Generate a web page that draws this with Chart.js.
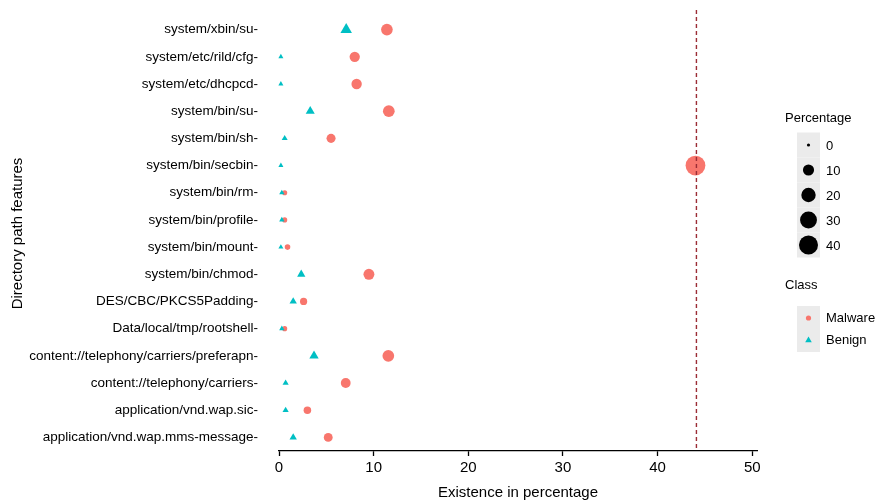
<!DOCTYPE html>
<html>
<head>
<meta charset="utf-8">
<script src="https://cdn.jsdelivr.net/npm/chart.js@4/dist/chart.umd.min.js"></script>
<style>
  html, body { margin: 0; padding: 0; background: #fff; }
  #wrap { width: 877px; height: 501px; position: relative; }
</style>
</head>
<body>
<div id="wrap"><canvas id="dir-chart"></canvas></div>
<script>
// ── Data ──────────────────────────────────────────────────────
const PATHS = [
    'system/xbin/su',
    'system/etc/rild/cfg',
    'system/etc/dhcpcd',
    'system/bin/su',
    'system/bin/sh',
    'system/bin/secbin',
    'system/bin/rm',
    'system/bin/profile',
    'system/bin/mount',
    'system/bin/chmod',
    'DES/CBC/PKCS5Padding',
    'Data/local/tmp/rootshell',
    'content://telephony/carriers/preferapn',
    'content://telephony/carriers',
    'application/vnd.wap.sic',
    'application/vnd.wap.mms-message',
];
const MALWARE_PCT = [11.4, 8.0, 8.2, 11.6, 5.5, 44.0, 0.6, 0.6, 0.9, 9.5, 2.6, 0.6, 11.55, 7.05, 3.0, 5.2];
const BENIGN_PCT  = [7.1, 0.2, 0.2, 3.3, 0.6, 0.2, 0.3, 0.3, 0.2, 2.35, 1.5, 0.3, 3.7, 0.7, 0.7, 1.5];
const X_TICKS     = [0, 10, 20, 30, 40, 50];
const SIZE_KEYS   = [0, 10, 20, 30, 40];
const THRESHOLD   = 44.1;

const FONT      = '"Liberation Sans", Arial, sans-serif';
const CLR_MAL   = '#F8766D';
const CLR_BEN   = '#00BFC4';
const KEY_BG    = '#ebebeb';

// area-ish size scale, like ggplot's scale_size
const sizeOf = v => 1.6 + 1.25 * Math.sqrt(Math.max(0, v));

const toPoints = vals => vals.map((v, i) => ({ x: v, y: PATHS[i] }));

// ── Plugins ───────────────────────────────────────────────────
const thresholdLine = {
    id: 'thresholdLine',
    afterDatasetsDraw(chart) {
        const { ctx, chartArea, scales } = chart;
        const x = scales.x.getPixelForValue(THRESHOLD);
        ctx.save();
        ctx.strokeStyle = '#9b2d35';
        ctx.lineWidth = 1.4;
        ctx.setLineDash([4, 3]);
        ctx.beginPath();
        ctx.moveTo(x, chartArea.top - 6);
        ctx.lineTo(x, chartArea.bottom);
        ctx.stroke();
        ctx.restore();
    },
};

const sideLegend = {
    id: 'sideLegend',
    afterDraw(chart) {
        const ctx = chart.ctx;
        const left = 797, keyW = 23;
        ctx.save();
        ctx.fillStyle = '#000';
        ctx.textBaseline = 'middle';
        ctx.font = `13px ${FONT}`;
        ctx.fillText('Percentage', 785, 118);

        // size keys
        SIZE_KEYS.forEach((v, i) => {
            const cy = 145 + i * 25;
            ctx.fillStyle = KEY_BG;
            ctx.fillRect(left, cy - 12.5, keyW, 25);
            ctx.fillStyle = '#000';
            ctx.beginPath();
            ctx.arc(left + keyW / 2, cy, sizeOf(v), 0, Math.PI * 2);
            ctx.fill();
            ctx.font = `13px ${FONT}`;
            ctx.fillText(String(v), 826, cy + 1);
        });

        // class keys
        ctx.fillText('Class', 785, 285);
        ctx.fillStyle = KEY_BG;
        ctx.fillRect(left, 306, keyW, 46);
        ctx.fillStyle = CLR_MAL;
        ctx.beginPath();
        ctx.arc(left + keyW / 2, 318, 2.6, 0, Math.PI * 2);
        ctx.fill();
        ctx.fillStyle = CLR_BEN;
        ctx.beginPath();
        const tx = left + keyW / 2, ty = 340;
        ctx.moveTo(tx, ty - 3.6);
        ctx.lineTo(tx + 3.3, ty + 2.2);
        ctx.lineTo(tx - 3.3, ty + 2.2);
        ctx.closePath();
        ctx.fill();
        ctx.fillStyle = '#000';
        ctx.fillText('Malware', 826, 318);
        ctx.fillText('Benign', 826, 340);
        ctx.restore();
    },
};

// ── Chart ─────────────────────────────────────────────────────
new Chart(document.getElementById('dir-chart'), {
    type: 'scatter',
    data: {
        datasets: [
            { label: 'Benign', data: toPoints(BENIGN_PCT),
              pointStyle: 'triangle', backgroundColor: CLR_BEN, borderWidth: 0,
              pointRadius: c => sizeOf(c.raw ? c.raw.x : 0) * 1.35, clip: false },
            { label: 'Malware', data: toPoints(MALWARE_PCT),
              pointStyle: 'circle', backgroundColor: CLR_MAL, borderWidth: 0,
              pointRadius: c => sizeOf(c.raw ? c.raw.x : 0), clip: false },
        ],
    },
    options: {
        responsive: true, maintainAspectRatio: false, animation: false,
        layout: { autoPadding: false, padding: { top: 16, right: 120, bottom: 1, left: 9 } },
        plugins: { legend: { display: false }, tooltip: { enabled: false } },
        scales: {
            x: {
                type: 'linear', min: 0, max: 50.5,
                afterBuildTicks: s => { s.ticks = X_TICKS.map(v => ({ value: v })); },
                grid: { drawOnChartArea: false, tickLength: 5, tickColor: '#000', tickWidth: 1.3 },
                border: { display: true, color: '#000', width: 1.3 },
                ticks: { color: '#000', font: { family: FONT, size: 15 }, padding: 3, maxRotation: 0 },
                title: { display: true, text: 'Existence in percentage', color: '#000',
                         font: { family: FONT, size: 15, lineHeight: 1 }, padding: { top: 5, bottom: 0 } },
            },
            y: {
                type: 'category', labels: PATHS, offset: true,
                grid: { display: false, drawTicks: false },
                border: { display: false },
                afterFit: s => { s.width = 270; s.paddingTop = 0; s.paddingBottom = 0; },
                ticks: { color: '#000', font: { family: FONT, size: 13.5 }, padding: 21,
                         callback: function (v) { return this.getLabelForValue(v) + '-'; } },
                title: { display: true, text: 'Directory path features', color: '#000',
                         font: { family: FONT, size: 15 }, padding: { top: 0, bottom: 0 } },
            },
        },
    },
    plugins: [thresholdLine, sideLegend],
});
</script>
</body>
</html>
